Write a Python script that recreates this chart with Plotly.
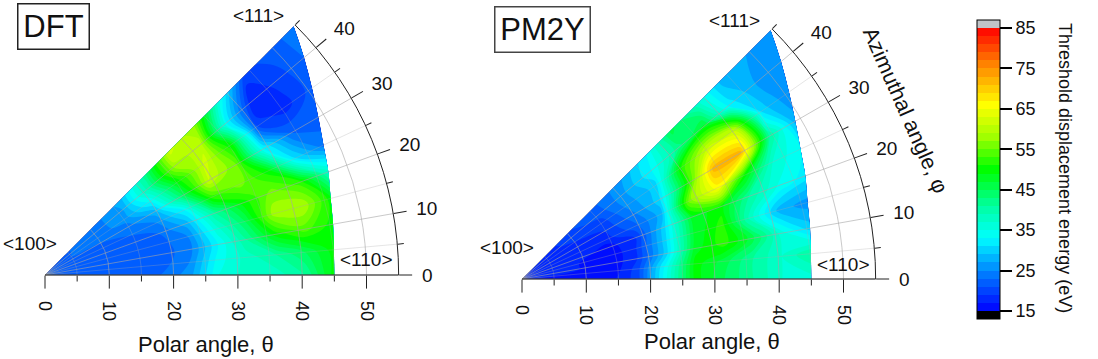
import numpy as np
import plotly.graph_objects as go

W, H = 1098, 359
SCALE = 6.43
RMAX = 55

# azimuth (deg), fractional position along ray to the <100>-<110>-<111> edge
azimuth = [0, 5, 10, 15, 20, 25, 30, 35, 40, 45]
edge_polar = [45, 45.1, 45.5, 46, 46.9, 47.8, 49.1, 50.7, 52.6, 54.7]
fraction = [0, .1, .2, .3, .4, .5, .6, .7, .8, .9, 1]

dft_energy = [
    [23, 23, 23, 23, 23, 26, 35, 38, 38, 41, 50],
    [23, 23, 23, 22, 22, 25, 34, 38, 41, 45, 50],
    [23, 23, 23, 22, 22, 24, 33, 41, 50, 54, 50],
    [23, 23, 23, 22, 22, 25, 36, 45, 58, 59, 50],
    [23, 23, 23, 23, 23, 28, 41, 50, 56, 52, 38],
    [23, 23, 23, 23, 25, 33, 52, 56, 50, 31, 24],
    [23, 23, 23, 24, 28, 44, 61, 55, 33, 23, 22],
    [23, 23, 24, 26, 34, 50, 62, 49, 20, 18, 22],
    [23, 23, 24, 27, 40, 58, 60, 33, 17, 20, 23],
    [23, 23, 24, 28, 42, 62, 57, 35, 20, 22, 24],
]
pm2y_energy = [
    [17, 17, 16, 16, 20, 35, 50, 45, 41, 37, 36],
    [18, 17, 16, 15, 20, 34, 50, 46, 41, 37, 41],
    [18, 18, 17, 15, 19, 30, 48, 52, 46, 36, 30],
    [18, 18, 17, 15, 19, 30, 47, 52, 38, 28, 26],
    [18, 18, 18, 16, 19, 30, 48, 50, 41, 35, 32],
    [18, 18, 18, 18, 22, 28, 56, 66, 50, 37, 33],
    [18, 18, 18, 19, 24, 30, 50, 72, 72, 42, 28],
    [18, 18, 19, 20, 26, 30, 52, 62, 60, 30, 25],
    [18, 18, 20, 22, 27, 33, 42, 48, 32, 27, 26],
    [18, 18, 21, 23, 27, 33, 46, 38, 28, 27, 26],
]
panel_names = ["DFT", "PM2Y"]
major_polar = [0, 10, 20, 30, 40, 50]
minor_polar = [5, 15, 25, 35, 45]
major_azimuth = [0, 10, 20, 30, 40]
minor_azimuth = [5, 15, 25, 35, 45]
rim_polar = [55]
cb_ticks = [15, 25, 35, 45, 55, 65, 75, 85]

colorscale_ev = [13, 15, 15, 24, 33, 41, 50, 58, 66, 75, 85, 85, 87]
colorscale_col = ["#000000", "#000000", "#0000ff", "#0078ff", "#00ffff", "#00ffa0", "#00ff00",
                  "#a0ff00", "#ffff00", "#ff9000", "#ff0000", "#c0c4c8", "#c0c4c8"]
colorscale = [[(v - 13) / 74, c] for v, c in zip(colorscale_ev, colorscale_col)]

origins = [(45, 275), (522, 279)]
fig = go.Figure()
TF = dict(family="Liberation Sans", color="#111")
CLEAR = "rgba(0,0,0,0)"

phi = np.radians(azimuth)
rr = np.outer(edge_polar, fraction)
X, Y = rr * np.cos(phi)[:, None], rr * np.sin(phi)[:, None]

for i, (z, (ox, oy)) in enumerate(zip([dft_energy, pm2y_energy], origins)):
    xname = "x" if i == 0 else "x2"
    yname = "y" if i == 0 else "y2"
    cid = f"c{i}"
    ax = dict(showgrid=False, minorgridcount=0, startline=False, endline=False,
              showticklabels="none", smoothing=1, tickmode="array", tickvals=[])
    fig.add_trace(go.Carpet(carpet=cid, a=fraction, b=azimuth, x=X, y=Y, aaxis=ax, baxis=ax,
                            xaxis=xname, yaxis=yname))
    trace = dict(carpet=cid, a=fraction, b=azimuth, z=z, xaxis=xname, yaxis=yname,
                 colorscale=colorscale, zmin=13, zmax=87, autocontour=False,
                 contours=dict(start=13, end=87, size=2, coloring="fill", showlines=False),
                 line=dict(width=0, smoothing=1), showscale=i == 0)
    if i == 0:
        trace["colorbar"] = dict(
            thickness=23, thicknessmode="pixels", len=299, lenmode="pixels",
            x=977 / W, xanchor="left", y=1 - 20 / H, yanchor="top", xpad=0, ypad=0,
            outlinewidth=1, outlinecolor="#000", tickmode="array", tickvals=cb_ticks,
            ticks="outside", ticklen=12, tickwidth=2, tickcolor="#000", tickprefix="\u00a0",
            tickfont=dict(size=18, **TF))
    fig.add_trace(go.Contourcarpet(**trace))

    def dom(rmax):
        w = rmax * SCALE
        h = w * np.sin(np.radians(45))
        return [ox / W, (ox + w) / W], [1 - oy / H, 1 - (oy - h) / H]

    dx, dy = dom(RMAX)
    ak = "xaxis" if i == 0 else "xaxis2"
    bk = "yaxis" if i == 0 else "yaxis2"
    fig.update_layout(**{
        ak: dict(domain=dx, range=[0, RMAX], visible=False, anchor=yname),
        bk: dict(domain=dy, range=[0, RMAX * np.sin(np.radians(45))], visible=False, anchor=xname),
    })

    # overlays: 1 minor grid/ticks, 2 major grid/ticks, 3 outer arc, 4 tick labels
    base = 4 * i
    layers = [
        dict(rv=minor_polar, av=minor_azimuth, rl=6, al=6, gr="rgba(170,170,170,0.3)",
             ga="rgba(170,170,170,0.3)", tc="#222", lab=False, rmax=RMAX),
        dict(rv=major_polar, av=major_azimuth, rl=13, al=13, gr="rgba(165,165,165,0.6)",
             ga="rgba(165,165,165,0.6)", tc="#222", lab=False, rmax=RMAX),
        dict(rv=rim_polar, av=[], rl=0, al=0, gr="#222", ga=CLEAR, tc=CLEAR, lab=False, rmax=55.4),
        dict(rv=major_polar, av=major_azimuth, rl=22, al=19, gr=CLEAR, ga=CLEAR, tc=CLEAR, lab=True, rmax=RMAX),
    ]
    for j, L in enumerate(layers):
        pid = f"polar{base + j + 1}"
        if pid == "polar1":
            pid = "polar"
        fig.add_trace(go.Scatterpolar(r=[0], theta=[0], mode="markers", marker=dict(opacity=0),
                                      subplot=pid, showlegend=False, hoverinfo="skip"))
        ddx, ddy = dom(L["rmax"])
        fig.update_layout(**{pid: dict(
            domain=dict(x=ddx, y=ddy), sector=[0, 45], bgcolor=CLEAR,
            radialaxis=dict(range=[0, L["rmax"]], angle=0, side="clockwise", tickmode="array",
                            tickvals=L["rv"], ticks="outside", ticklen=max(L["rl"], 1), tickwidth=1.2,
                            tickcolor=L["tc"], showline=j == 1, linecolor="#222", linewidth=1.2,
                            showgrid=True, gridcolor=L["gr"], gridwidth=1.2 if j == 2 else 1,
                            tickangle=90, showticklabels=L["lab"], tickfont=dict(size=18, **TF)),
            angularaxis=dict(direction="counterclockwise", rotation=0, tickmode="array",
                             tickvals=L["av"], ticks="outside", ticklen=max(L["al"], 1), tickwidth=1.2,
                             tickcolor=L["tc"], showline=False, showgrid=True, gridcolor=L["ga"],
                             gridwidth=1, showticklabels=L["lab"], tickfont=dict(size=19, **TF)),
        )})


def note(text, x, y, size=18, **kw):
    fig.add_annotation(text=text, x=x / W, y=1 - y / H, xref="paper", yref="paper", showarrow=False,
                       xanchor="center", yanchor="middle", font=dict(size=size, **TF), **kw)


note("DFT", 53, 26, 31, bordercolor="#222", borderwidth=1.5, width=68, height=42, bgcolor="white")
note("PM2Y", 542, 30, 31, bordercolor="#444", borderwidth=1.5, width=92, height=42, bgcolor="white")
for label, x, y in [("&lt;111&gt;", 258, 15), ("&lt;100&gt;", 30, 243), ("&lt;110&gt;", 366, 259),
                    ("&lt;111&gt;", 734, 20), ("&lt;100&gt;", 507, 247), ("&lt;110&gt;", 843, 264)]:
    note(label, x, y, 19)
note("Polar angle, θ", 206, 344, 22)
note("Polar angle, θ", 712, 341, 22)
note("Azimuthal angle, φ", 905, 110, 21.5, textangle=66)
note("Threshold displacement energy (eV)", 1065, 168, 18, textangle=90)

fig.update_layout(width=W, height=H, autosize=False, margin=dict(l=0, r=0, t=0, b=0),
                  paper_bgcolor="white", plot_bgcolor="white", showlegend=False)
fig.write_html("out.html", config={"displayModeBar": False},
               post_script="document.body.style.margin='0';document.body.style.overflow='hidden';")
